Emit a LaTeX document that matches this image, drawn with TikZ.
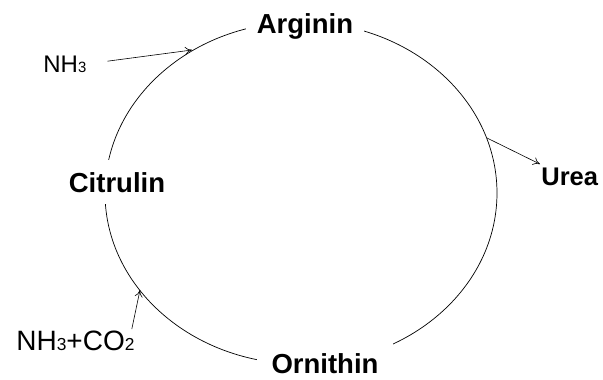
\documentclass[tikz,border=0pt]{standalone}
\usepackage{fontspec}
\setmainfont{Liberation Sans}
\usetikzlibrary{arrows.meta,calc}
\makeatletter
\newcommand{\chemidx}[1]{{\fontsize{\dimexpr 0.62\dimexpr\f@size pt\relax\relax}{1pt}\selectfont #1}}
\makeatother

\begin{document}
\begin{tikzpicture}[x=1pt, y=-1pt, line width=0.7pt,
  stage/.style={font=\fontsize{27.5pt}{30pt}\selectfont\bfseries, fill=white, anchor=base, inner ysep=12pt},
  feed/.style={font=\fontsize{24pt}{28pt}\selectfont, anchor=base west, inner sep=1pt},
  flow/.style={-{To[length=7pt,width=8pt]}, line width=0.6pt}]
\useasboundingbox (0,0) rectangle (603,380);
% the cycle
\coordinate (hub) at (301,193);
\draw (hub) ellipse [x radius=196pt, y radius=171pt];
\node[stage, inner xsep=11pt] (arginin) at (305,33) {Arginin};
\node[stage, inner xsep=15pt] (ornithin) at (325,373) {Ornithin};
\node[stage, inner xsep=4pt] (citrulin) at (117,192) {Citrulin};
\node[stage, font=\fontsize{25.5pt}{30pt}\selectfont\bfseries, fill=none, inner sep=1pt, anchor=base west] (urea) at (540,185) {Urea};
% inputs and output
\node[feed] (nhthree) at (42,72) {NH\chemidx{3}};
\node[feed, font=\fontsize{28pt}{30pt}\selectfont] (nhco) at (15,350) {NH\chemidx{3}+CO\chemidx{2}};
\coordinate (argin) at (192,50);
\coordinate (carbin) at (140,290);
\coordinate (ureaout) at (487,138);
\draw[flow, shorten <=20pt] (nhthree.east) -- (argin);
\draw[flow] ([xshift=-4pt]nhco.north east) -- (carbin);
\draw[flow] (ureaout) -- ([yshift=2pt]urea.north west);
\end{tikzpicture}
\end{document}
